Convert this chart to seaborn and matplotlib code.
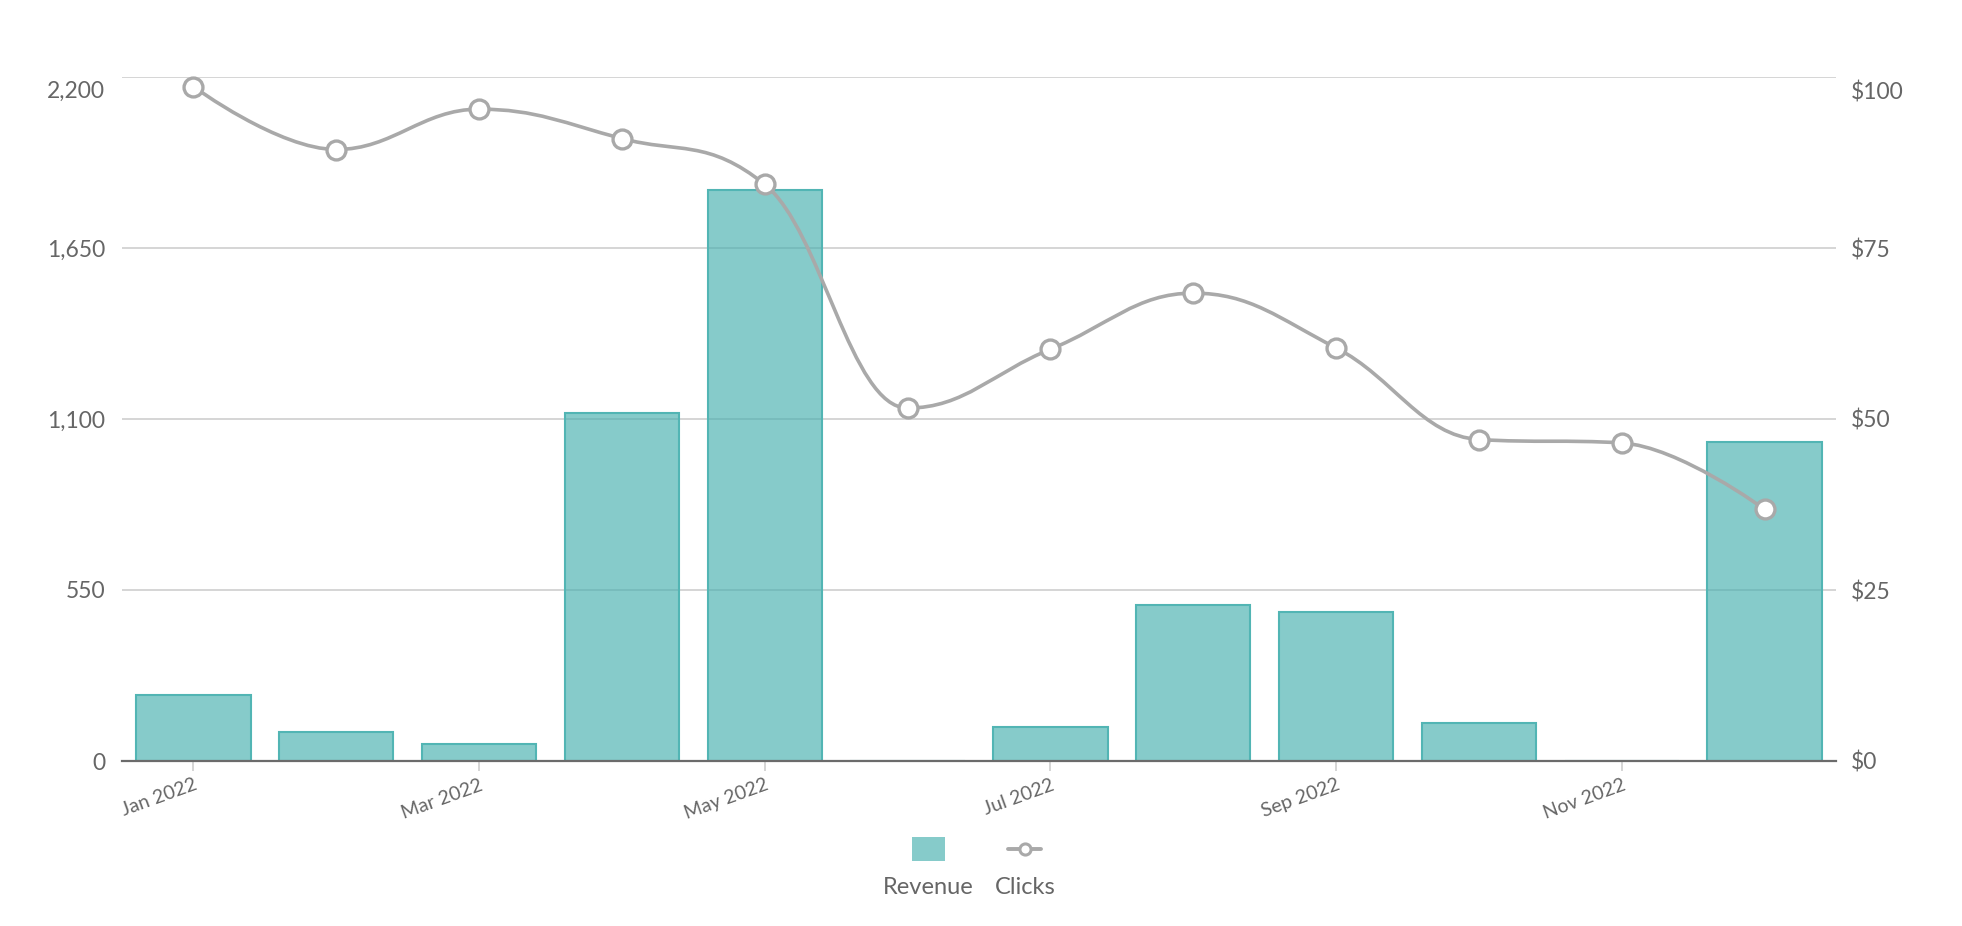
import numpy as np
import matplotlib
matplotlib.use("Agg")
import matplotlib.pyplot as plt
from matplotlib.path import Path
from matplotlib.patches import PathPatch, Rectangle
from matplotlib.lines import Line2D
from matplotlib.transforms import ScaledTranslation
import seaborn as sns

# ---- data ----
months = ["Jan 2022", "Feb 2022", "Mar 2022", "Apr 2022", "May 2022", "Jun 2022",
          "Jul 2022", "Aug 2022", "Sep 2022", "Oct 2022", "Nov 2022", "Dec 2022"]
revenue = [212, 94, 56, 1120, 1838, 0, 110, 503, 478, 123, 0, 1027]
clicks = [98.6, 89.4, 95.3, 91.0, 84.3, 51.6, 60.2, 68.4, 60.4, 47.0, 46.5, 36.8]
left_ticks = [0, 550, 1100, 1650, 2200]
left_labels = ["0", "550", "1,100", "1,650", "2,200"]
right_ticks = [0, 25, 50, 75, 100]
right_labels = ["$0", "$25", "$50", "$75", "$100"]
xtick_idx = [0, 2, 4, 6, 8, 10]

# ---- style ----
sns.set_theme(style="white")
plt.rcParams["font.family"] = ["Lato", "DejaVu Sans"]
TXT = "#666666"
BAR_RGB = (70 / 255, 175 / 255, 174 / 255)
BAR_EDGE = "#52b5b4"
LINE = "#a9a9a9"
GRID = "#cacaca"

W, H = 1962, 926
fig = plt.figure(figsize=(W / 100, H / 100), dpi=100)
fig.patch.set_facecolor("white")
L, R, T, B = 122, 1836, 77, 761
ax = fig.add_axes([L / W, 1 - B / H, (R - L) / W, (B - T) / H])

sns.barplot(x=months, y=revenue, ax=ax, color=BAR_RGB, width=0.8, saturation=1,
            linewidth=1.5, zorder=3)
for p in ax.patches:
    p.set_facecolor((*BAR_RGB, 0.65))
    p.set_edgecolor(BAR_EDGE)
    p.set_linewidth(1.5)

ax.set_xlim(-0.5, 11.5)
ax.set_ylim(0, 2200)
ax.set_yticks(left_ticks)
ax.set_yticklabels(left_labels)
ax.yaxis.grid(True, color=GRID, linewidth=1.1, zorder=0)
ax.set_axisbelow(True)
ax.set_xlabel("")
ax.set_ylabel("")
for s in ["top", "left", "right"]:
    ax.spines[s].set_visible(False)
ax.spines["bottom"].set_color("#6b6b6b")
ax.spines["bottom"].set_linewidth(1.6)
ax.spines["bottom"].set_zorder(5)
ax.tick_params(axis="y", length=0, pad=12, labelsize=16.5, labelcolor=TXT)
ax.set_xticks(xtick_idx)
ax.set_xticklabels([months[i] for i in xtick_idx], rotation=20, ha="right",
                   rotation_mode="anchor")
ax.tick_params(axis="x", length=7, width=1.1, color=GRID, pad=4, labelsize=14,
               labelcolor=TXT, direction="out", bottom=True)
shift = ScaledTranslation(0, -4 / 100, fig.dpi_scale_trans)
for lab in ax.get_yticklabels():
    if lab.get_text() == "2,200":
        lab.set_verticalalignment("top")
        lab.set_transform(lab.get_transform() + shift)

# ---- line on twin axis ----
ax2 = ax.twinx()
ax2.set_ylim(0, 100)
ax2.set_yticks(right_ticks)
ax2.set_yticklabels(right_labels)
for s in ax2.spines.values():
    s.set_visible(False)
ax2.tick_params(axis="y", length=0, pad=11, labelsize=16.5, labelcolor=TXT)
for lab in ax2.get_yticklabels():
    if lab.get_text() == "$100":
        lab.set_verticalalignment("top")
        lab.set_transform(lab.get_transform() + shift)

xs = np.arange(len(clicks), dtype=float)
ys = np.array(clicks, dtype=float)

# Spline path (cubic Bezier, smoothing 1.5) through the data points
sm = 1.5
den = sm + 1
n = len(xs)
rc = [None] * n
verts = [(xs[0], ys[0])]
codes = [Path.MOVETO]
for i in range(1, n):
    px, py = xs[i], ys[i]
    lx, ly = xs[i - 1], ys[i - 1]
    lcx, lcy = px, py
    if i < n - 1:
        nx, ny = xs[i + 1], ys[i + 1]
        lcx = (sm * px + lx) / den
        lcy = (sm * py + ly) / den
        rcx = (sm * px + nx) / den
        rcy = (sm * py + ny) / den
        corr = 0.0
        if rcx != lcx:
            corr = (rcy - lcy) * (rcx - px) / (rcx - lcx) + py - rcy
        lcy += corr
        rcy += corr
        if lcy > ly and lcy > py:
            lcy = max(ly, py); rcy = 2 * py - lcy
        elif lcy < ly and lcy < py:
            lcy = min(ly, py); rcy = 2 * py - lcy
        if rcy > ny and rcy > py:
            rcy = max(ny, py); lcy = 2 * py - rcy
        elif rcy < ny and rcy < py:
            rcy = min(ny, py); lcy = 2 * py - rcy
        rc[i] = (rcx, rcy)
    c1 = rc[i - 1] if rc[i - 1] is not None else (lx, ly)
    verts += [c1, (lcx, lcy), (px, py)]
    codes += [Path.CURVE4, Path.CURVE4, Path.CURVE4]

ax2.add_patch(PathPatch(Path(verts, codes), facecolor="none", edgecolor=LINE,
                        linewidth=2.6, zorder=4, capstyle="round", joinstyle="round"))
sns.scatterplot(x=xs, y=ys, ax=ax2, s=185, color="white", edgecolor=LINE,
                linewidth=2.4, zorder=5, clip_on=False, legend=False)
ax2.set_xlim(-0.5, 11.5)
ax2.set_xlabel("")
ax2.set_ylabel("")

# ---- legend (symbol above label) ----
fig.add_artist(Rectangle((912 / W, 1 - 861 / H), 33 / W, 24 / H,
                         transform=fig.transFigure, facecolor=(*BAR_RGB, 0.65),
                         edgecolor="none"))
fig.add_artist(Line2D([1008 / W, 1041 / W], [1 - 849 / H, 1 - 849 / H],
                      transform=fig.transFigure, color=LINE, linewidth=2.8))
fig.add_artist(Line2D([1024.5 / W], [1 - 849 / H], transform=fig.transFigure,
                      marker="o", markersize=8, markerfacecolor="white",
                      markeredgecolor=LINE, markeredgewidth=2.2, linestyle="none"))
fig.text(928 / W, 1 - 888 / H, "Revenue", ha="center", va="center", fontsize=17, color=TXT)
fig.text(1025 / W, 1 - 888 / H, "Clicks", ha="center", va="center", fontsize=17, color=TXT)

fig.savefig("out.png", dpi=100, facecolor="white")
